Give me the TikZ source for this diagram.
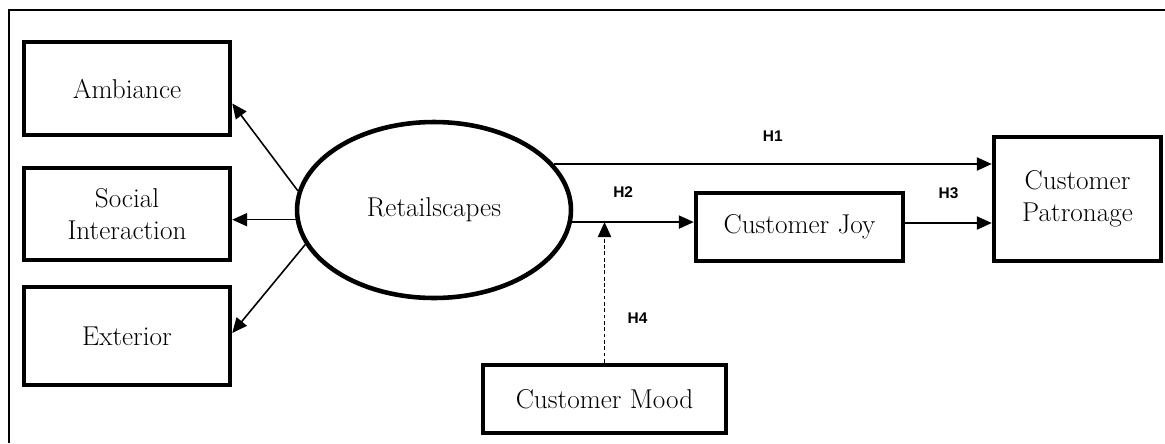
\documentclass[tikz,border=0pt]{standalone}
\usepackage{fontspec}
\newfontfamily\hypfont{Liberation Sans}
\usepackage{tikz}
\usetikzlibrary{positioning}
\usetikzlibrary{calc,arrows.meta}
\usetikzlibrary{shapes.geometric}

\tikzset{
	construct/.style={draw, rectangle, line width=2.6pt, inner sep=0pt, align=center,
		font=\fontsize{15.5}{18.5}\selectfont},
	latent/.style={draw, ellipse, line width=2.6pt, inner sep=0pt,
		font=\fontsize{15.5}{18.5}\selectfont},
	hpath/.style={line width=0.9pt, -{Triangle[length=8.5pt,width=7.5pt]}},
	hlabel/.style={font=\hypfont\bfseries\fontsize{8.8}{10}\selectfont, inner sep=1pt},
}

\begin{document}
\begin{tikzpicture}[x=0.02cm, y=-0.02cm]

	% Proper size --- Bounding box (pixel units, y pointing down)
	\useasboundingbox (0,0) rectangle (1165,443);
	
	% Frame (only top and left edges show)
	\draw[line width=1.2pt] (9,443) -- (9,10) -- (1165,10);
	
	% ------------------------------------------------
	% DIMENSIONS
	% ------------------------------------------------
	\node[construct, minimum width=4.12cm, minimum height=1.86cm] (Amb) at (127,88.5) {Ambiance};
	\node[construct, minimum width=4.12cm, minimum height=1.84cm] (Soc) at (127,214) {Social\\Interaction};
	\node[construct, minimum width=4.12cm, minimum height=1.96cm] (Ext) at (127,336) {Exterior};
	
	% Latent construct
	\node[latent, minimum width=5.48cm, minimum height=3.52cm] (Ret) at (434,210) {Retailscapes};
	
	% Outcomes and moderator
	\node[construct, minimum width=4.14cm, minimum height=1.36cm] (Joy) at (799.5,227) {Customer Joy};
	\node[construct, minimum width=3.34cm, minimum height=2.48cm] (Pat) at (1077.5,199) {Customer\\Patronage};
	\node[construct, minimum width=4.86cm, minimum height=1.36cm] (Mood) at (604.5,399) {Customer Mood};
	
	% Meeting point of the moderation path on H2
	\coordinate (M) at (Mood.north |- Ret.355.5);
	
	% Reflective arrows
	\draw[hpath] (Ret.172.5) -- ($(Amb.east)+(0,15)$);
	\draw[hpath] (Ret.184) -- (Ret.184 -| Soc.east);
	\draw[hpath] (Ret.195) -- ($(Ext.east)+(0,-3)$);
	
	% Hypotheses
	\draw[hpath] (Ret.21.5) -- node[hlabel, yshift=0.56cm] (H1) {H1} (Ret.21.5 -| Pat.west);
	\draw[hpath] (Ret.355.5) -- node[hlabel, pos=0.42, yshift=0.6cm] (H2) {H2} (Ret.355.5 -| Joy.west);
	\draw[hpath] ($(Joy.east)+(0,-4)$) -- node[hlabel, yshift=0.6cm] (H3) {H3} ($(Joy.east -| Pat.west)+(0,-4)$);
	\draw[hpath, dash pattern=on 2.2pt off 1.4pt] (Mood.north) -- node[hlabel, pos=0.32, xshift=0.66cm] (H4) {H4} (M);

\end{tikzpicture}
\end{document}
